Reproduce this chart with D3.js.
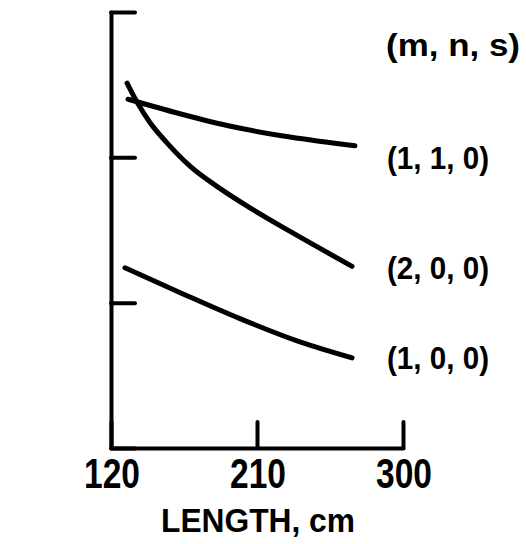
<!DOCTYPE html>
<html>
<head>
<meta charset="utf-8">
<script src="https://cdn.jsdelivr.net/npm/d3@7"></script>
<style>
  body { margin: 0; background: #fff; }
  text { font-family: "Liberation Sans", Arial, sans-serif; font-weight: bold; fill: #000; }
</style>
</head>
<body>
<div id="chart"></div>
<script>
// length along x, curves (y in tick units, no labels on y)
var xTicks = [120, 210, 300];
var yTicks = [0, 1, 2, 3];

var mode110 = [
    { x: 130.5, y: 2.40 },
    { x: 162.5, y: 2.30 },
    { x: 195.2, y: 2.21 },
    { x: 230.4, y: 2.14 },
    { x: 270.4, y: 2.08 }
];
var mode200 = [
    { x: 129.9, y: 2.51 },
    { x: 136.0, y: 2.38 },
    { x: 144.0, y: 2.24 },
    { x: 154.5, y: 2.10 },
    { x: 168.7, y: 1.94 },
    { x: 185.3, y: 1.80 },
    { x: 207.5, y: 1.64 },
    { x: 230.4, y: 1.49 },
    { x: 268.6, y: 1.25 }
];
var mode100 = [
    { x: 128.6, y: 1.24 },
    { x: 164.4, y: 1.06 },
    { x: 199.5, y: 0.89 },
    { x: 236.5, y: 0.73 },
    { x: 268.6, y: 0.62 }
];

var series = [mode110, mode200, mode100];
var legendHeader = "(m, n, s)";
var legendLabels = ["(1, 1, 0)", "(2, 0, 0)", "(1, 0, 0)"];
var legendY = [158, 268, 358];

var margin = {top: 12, right: 123, bottom: 96, left: 111};
var width = 526 - margin.left - margin.right;
var height = 544 - margin.top - margin.bottom;

var x = d3.scaleLinear()
    .domain([120, 300])
    .range([0, width]);

var y = d3.scaleLinear()
    .domain([0, 3])
    .range([height, 0]);

var svg = d3.select('#chart')
    .append('svg')
    .attr('width', 526)
    .attr('height', 544);

var g = svg.append('g')
    .attr('transform', 'translate(' + margin.left + ',' + margin.top + ')');

// y axis: ticks point inward, no labels
var yAxis = d3.axisRight(y)
    .tickValues(yTicks)
    .tickSize(24)
    .tickSizeOuter(0)
    .tickFormat('');

// x axis: ticks point up
var xAxis = d3.axisTop(x)
    .tickValues(xTicks)
    .tickSize(26)
    .tickSizeOuter(0)
    .tickFormat('');

var ya = g.append('g').call(yAxis);
var xa = g.append('g').attr('transform', 'translate(0,' + height + ')').call(xAxis);

[ya, xa].forEach(function (a) {
    a.selectAll('path, line')
        .attr('stroke', '#000')
        .attr('stroke-width', 4)
        .attr('stroke-linecap', 'round');
});

// narrow bold lettering: squeeze each label to the width seen in the picture
function squeeze(sel, w) {
    sel.attr('textLength', w).attr('lengthAdjust', 'spacingAndGlyphs');
}

g.selectAll('.xlab')
    .data(xTicks)
    .enter().append('text')
    .attr('x', function (d) { return x(d) + 1; })
    .attr('y', height + 40)
    .attr('text-anchor', 'middle')
    .style('font-size', '42px')
    .text(function (d) { return d; })
    .call(squeeze, 56);

g.append('text')
    .attr('x', width / 2 + 1)
    .attr('y', height + 84)
    .attr('text-anchor', 'middle')
    .style('font-size', '34px')
    .text('LENGTH, cm')
    .call(squeeze, 194);

var line = d3.line()
    .x(function (d) { return x(d.x); })
    .y(function (d) { return y(d.y); })
    .curve(d3.curveMonotoneX);

g.selectAll('.curve')
    .data(series)
    .enter().append('path')
    .attr('fill', 'none')
    .attr('stroke', '#000')
    .attr('stroke-width', 5)
    .attr('stroke-linecap', 'round')
    .attr('d', line);

// legend text on the right
svg.append('text')
    .attr('x', 386)
    .attr('y', 56)
    .style('font-size', '32px')
    .text(legendHeader)
    .call(squeeze, 134);

svg.selectAll('.leg')
    .data(legendLabels)
    .enter().append('text')
    .attr('x', 387)
    .attr('y', function (d, i) { return legendY[i] + 11; })
    .style('font-size', '32px')
    .text(function (d) { return d; })
    .call(squeeze, 102);
</script>
</body>
</html>
